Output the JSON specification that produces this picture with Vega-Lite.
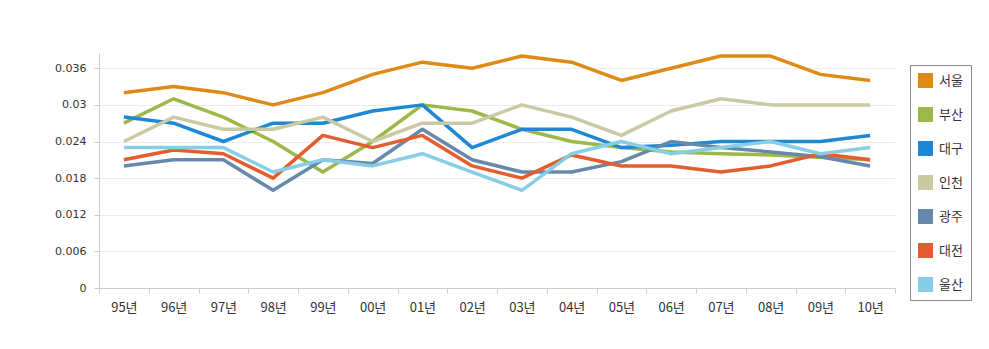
{
  "$schema": "https://vega.github.io/schema/vega-lite/v6.json",
  "width": 796,
  "height": 235,
  "autosize": {"type": "none"},
  "padding": {"left": 99, "top": 53, "right": 94, "bottom": 61},
  "background": "white",
  "config": {"view": {"stroke": null}, "font": "DejaVu Sans"},
  "data": {"values": [
    {"year":"95년","city":"서울","value":0.032},{"year":"96년","city":"서울","value":0.033},{"year":"97년","city":"서울","value":0.032},{"year":"98년","city":"서울","value":0.030},{"year":"99년","city":"서울","value":0.032},{"year":"00년","city":"서울","value":0.035},{"year":"01년","city":"서울","value":0.037},{"year":"02년","city":"서울","value":0.036},{"year":"03년","city":"서울","value":0.038},{"year":"04년","city":"서울","value":0.037},{"year":"05년","city":"서울","value":0.034},{"year":"06년","city":"서울","value":0.036},{"year":"07년","city":"서울","value":0.038},{"year":"08년","city":"서울","value":0.038},{"year":"09년","city":"서울","value":0.035},{"year":"10년","city":"서울","value":0.034},
    {"year":"95년","city":"부산","value":0.027},{"year":"96년","city":"부산","value":0.031},{"year":"97년","city":"부산","value":0.028},{"year":"98년","city":"부산","value":0.024},{"year":"99년","city":"부산","value":0.019},{"year":"00년","city":"부산","value":0.024},{"year":"01년","city":"부산","value":0.030},{"year":"02년","city":"부산","value":0.029},{"year":"03년","city":"부산","value":0.026},{"year":"04년","city":"부산","value":0.024},{"year":"05년","city":"부산","value":0.023},{"year":"06년","city":"부산","value":0.0223},{"year":"07년","city":"부산","value":0.022},{"year":"08년","city":"부산","value":0.0218},{"year":"09년","city":"부산","value":0.0214},{"year":"10년","city":"부산","value":0.021},
    {"year":"95년","city":"대구","value":0.028},{"year":"96년","city":"대구","value":0.027},{"year":"97년","city":"대구","value":0.024},{"year":"98년","city":"대구","value":0.027},{"year":"99년","city":"대구","value":0.027},{"year":"00년","city":"대구","value":0.029},{"year":"01년","city":"대구","value":0.030},{"year":"02년","city":"대구","value":0.023},{"year":"03년","city":"대구","value":0.026},{"year":"04년","city":"대구","value":0.026},{"year":"05년","city":"대구","value":0.023},{"year":"06년","city":"대구","value":0.0234},{"year":"07년","city":"대구","value":0.024},{"year":"08년","city":"대구","value":0.024},{"year":"09년","city":"대구","value":0.024},{"year":"10년","city":"대구","value":0.025},
    {"year":"95년","city":"인천","value":0.024},{"year":"96년","city":"인천","value":0.028},{"year":"97년","city":"인천","value":0.026},{"year":"98년","city":"인천","value":0.026},{"year":"99년","city":"인천","value":0.028},{"year":"00년","city":"인천","value":0.024},{"year":"01년","city":"인천","value":0.027},{"year":"02년","city":"인천","value":0.027},{"year":"03년","city":"인천","value":0.030},{"year":"04년","city":"인천","value":0.028},{"year":"05년","city":"인천","value":0.025},{"year":"06년","city":"인천","value":0.029},{"year":"07년","city":"인천","value":0.031},{"year":"08년","city":"인천","value":0.030},{"year":"09년","city":"인천","value":0.030},{"year":"10년","city":"인천","value":0.030},
    {"year":"95년","city":"광주","value":0.020},{"year":"96년","city":"광주","value":0.021},{"year":"97년","city":"광주","value":0.021},{"year":"98년","city":"광주","value":0.016},{"year":"99년","city":"광주","value":0.021},{"year":"00년","city":"광주","value":0.0204},{"year":"01년","city":"광주","value":0.026},{"year":"02년","city":"광주","value":0.021},{"year":"03년","city":"광주","value":0.019},{"year":"04년","city":"광주","value":0.019},{"year":"05년","city":"광주","value":0.0207},{"year":"06년","city":"광주","value":0.024},{"year":"07년","city":"광주","value":0.023},{"year":"08년","city":"광주","value":0.0223},{"year":"09년","city":"광주","value":0.0215},{"year":"10년","city":"광주","value":0.020},
    {"year":"95년","city":"대전","value":0.021},{"year":"96년","city":"대전","value":0.0226},{"year":"97년","city":"대전","value":0.022},{"year":"98년","city":"대전","value":0.018},{"year":"99년","city":"대전","value":0.025},{"year":"00년","city":"대전","value":0.023},{"year":"01년","city":"대전","value":0.025},{"year":"02년","city":"대전","value":0.020},{"year":"03년","city":"대전","value":0.018},{"year":"04년","city":"대전","value":0.0218},{"year":"05년","city":"대전","value":0.020},{"year":"06년","city":"대전","value":0.020},{"year":"07년","city":"대전","value":0.019},{"year":"08년","city":"대전","value":0.020},{"year":"09년","city":"대전","value":0.022},{"year":"10년","city":"대전","value":0.021},
    {"year":"95년","city":"울산","value":0.023},{"year":"96년","city":"울산","value":0.023},{"year":"97년","city":"울산","value":0.023},{"year":"98년","city":"울산","value":0.019},{"year":"99년","city":"울산","value":0.021},{"year":"00년","city":"울산","value":0.020},{"year":"01년","city":"울산","value":0.022},{"year":"02년","city":"울산","value":0.019},{"year":"03년","city":"울산","value":0.016},{"year":"04년","city":"울산","value":0.022},{"year":"05년","city":"울산","value":0.024},{"year":"06년","city":"울산","value":0.022},{"year":"07년","city":"울산","value":0.023},{"year":"08년","city":"울산","value":0.024},{"year":"09년","city":"울산","value":0.022},{"year":"10년","city":"울산","value":0.023}
  ]},
  "mark": {"type": "line", "strokeWidth": 3.5, "strokeJoin": "round"},
  "encoding": {
    "x": {
      "field": "year", "type": "nominal", "sort": null, "bandPosition": 0.5,
      "scale": {"type": "band", "paddingInner": 0, "paddingOuter": 0},
      "axis": {
        "title": null, "labelAngle": 0, "grid": false, "domain": true, "domainColor": "#cccccc",
        "tickColor": "#cccccc", "tickSize": 5, "tickBand": "extent",
        "labelFont": "Noto Sans CJK KR", "labelFontSize": 13, "labelColor": "#333333", "labelPadding": 8
      }
    },
    "y": {
      "field": "value", "type": "quantitative",
      "scale": {"domain": [0, 0.0385], "nice": false, "zero": true},
      "axis": {
        "title": null, "values": [0, 0.006, 0.012, 0.018, 0.024, 0.03, 0.036], "format": "~g",
        "grid": true, "gridColor": "#ececec", "domainColor": "#cccccc", "tickColor": "#cccccc",
        "tickSize": 5, "labelFontSize": 11, "labelColor": "#333333", "labelPadding": 8
      }
    },
    "color": {
      "field": "city", "type": "nominal",
      "scale": {
        "domain": ["서울", "부산", "대구", "인천", "광주", "대전", "울산"],
        "range": ["#DF8A16", "#9CB847", "#1F88D4", "#C9C9A3", "#6689AB", "#E45D2E", "#86CDE5"]
      },
      "legend": {
        "title": null, "orient": "none", "legendX": 811, "legendY": 12,
        "symbolType": "square", "symbolSize": 225, "symbolStrokeWidth": 0,
        "rowPadding": 19, "padding": 8, "strokeColor": "#888888",
        "labelFont": "Noto Sans CJK KR", "labelFontSize": 13, "labelColor": "#333333", "labelOffset": 6,
        "encode": {"symbols": {"update": {"fill": {"scale": "color", "field": "value"}, "fillOpacity": {"value": 1}}}}
      }
    }
  }
}
